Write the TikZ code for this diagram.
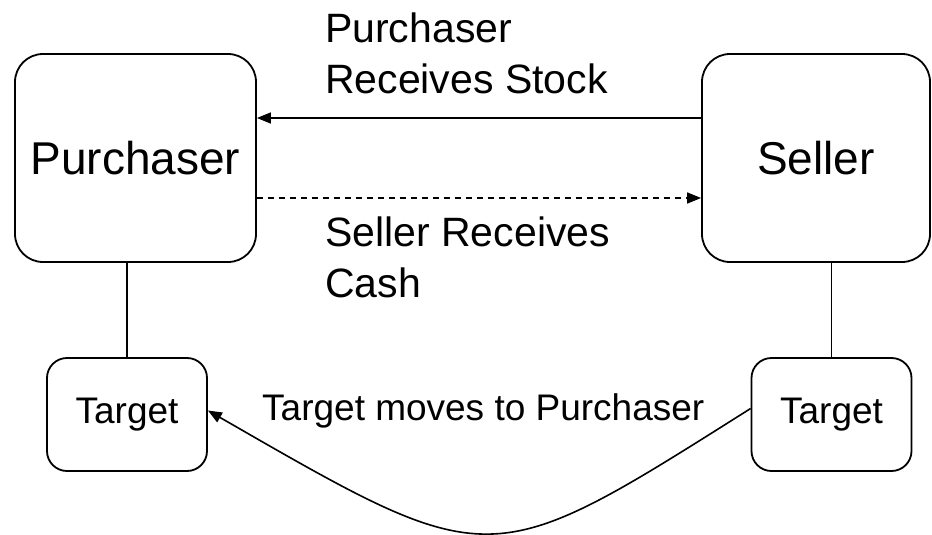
\documentclass[tikz,border=0pt]{standalone}
\usepackage{fontspec}
\setmainfont{Liberation Sans}
\usetikzlibrary{arrows.meta,positioning,calc}

\begin{document}
\begin{tikzpicture}[
  x=1pt, y=-1pt,
  >={Triangle[length=14pt,width=11pt]},
  party/.style={rectangle, draw, line width=1.8pt, rounded corners=28pt,
    inner sep=0pt, font=\fontsize{46}{55}\selectfont},
  tgtbox/.style={rectangle, draw, line width=1.8pt, rounded corners=20pt,
    minimum width=160pt, minimum height=113pt, inner sep=0pt,
    font=\fontsize{37}{44}\selectfont},
  lbl/.style={inner sep=0pt, align=left, font=\fontsize{41}{51}\selectfont},
  arr/.style={->, line width=1.6pt},
  link/.style={line width=1.5pt},
]
\useasboundingbox (0,0) rectangle (932,535);

% Parties
\node[party, minimum width=241pt, minimum height=208pt] (purchaser) at (135.5,158) {Purchaser};
\node[party, minimum width=228pt, minimum height=208pt] (seller) at (816,158) {Seller};

% Targets under each party
\node[tgtbox] (tgtP) at (127,414.5) {Target};
\node[tgtbox] (tgtS) at (831.5,414.5) {Target};

\draw[link] (tgtP.north) -- (tgtP.north |- purchaser.south);
\draw[link] (tgtS.north) -- (tgtS.north |- seller.south);

% Stock and cash flows
\draw[arr] ([yshift=40pt]seller.west) -- ([yshift=40pt]seller.west -| purchaser.east);
\draw[arr, dash pattern=on 6pt off 5pt] ([yshift=-40pt]purchaser.east) -- ([yshift=-40pt]purchaser.east -| seller.west);

\node[lbl, anchor=north west] (stocklbl) at (325,13) {Purchaser\\Receives Stock};
\node[lbl, anchor=north west] (cashlbl) at (325,217) {Seller Receives\\Cash};

% Target hand-over
\draw[arr] ([yshift=6pt]tgtS.west) .. controls +(-263,166) and +(285,164) .. ([yshift=4pt]tgtP.east);
\node[inner sep=0pt, anchor=base west, font=\fontsize{37}{44}\selectfont] (movelbl) at (262,420) {Target moves to Purchaser};

\end{tikzpicture}
\end{document}
